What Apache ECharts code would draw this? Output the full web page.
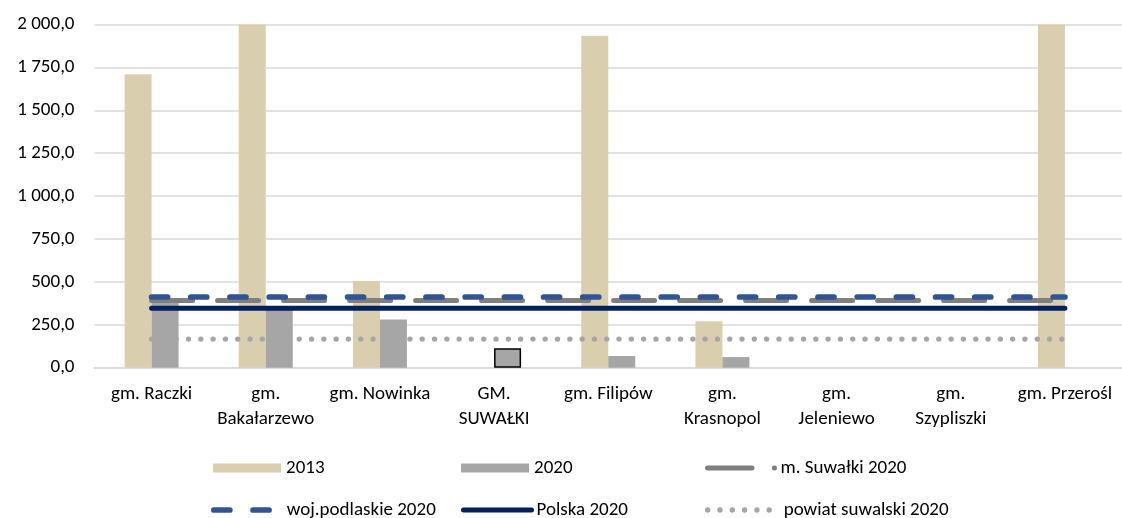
<!DOCTYPE html>
<html><head><meta charset="utf-8">
<script src="https://cdn.jsdelivr.net/npm/echarts@6/dist/echarts.min.js"></script>
<style>html,body{margin:0;padding:0;background:#fff}#c{width:1122px;height:518px}</style>
</head><body><div id="c"></div>
<script>
// ---- data ----
const categories = ['gm. Raczki', 'gm.\nBakałarzewo', 'gm. Nowinka', 'GM.\nSUWAŁKI', 'gm. Filipów', 'gm.\nKrasnopol', 'gm.\nJeleniewo', 'gm.\nSzypliszki', 'gm. Przerośl'];
const values2013 = [1710, 2000, 505, null, 1935, 270, null, null, 2000];
const values2020 = [385, 355, 281, 113, 68, 62, null, null, null];
const suwalkiCity2020 = [392, 392, 392, 392, 392, 392, 392, 392, 392];
const podlaskie2020 = [412, 412, 412, 412, 412, 412, 412, 412, 412];
const polska2020 = [347, 347, 347, 347, 347, 347, 347, 347, 347];
const powiat2020 = [167, 167, 167, 167, 167, 167, 167, 167, 167];
const yMin = 0, yMax = 2000, yStep = 250;
const outlinedIndex2020 = 3;

// ---- chart ----
const FONT = 'Carlito, Lato, sans-serif';
const FS = 19;
function fmtNum(v) {
  const s = Number(v).toFixed(1).replace('.', ',');
  const parts = s.split(',');
  const intp = parts[0].replace(/\B(?=(\d{3})+(?!\d))/g, '\u00a0');
  return intp + ',' + parts[1];
}
const chart = echarts.init(document.getElementById('c'), null, {renderer: 'canvas'});
const textStyle = {fontFamily: FONT, fontSize: FS, color: '#000', lineHeight: 20};
function lg(name, left, top, extra) {
  return Object.assign({
    data: [name], left: left, top: top, padding: 0, itemGap: 0,
    itemWidth: 68, itemHeight: 9, selectedMode: false, textStyle: textStyle,
    itemStyle: {opacity: 0}
  }, extra || {});
}
const row1 = 458, row2 = 500;
chart.setOption({
  animation: false,
  backgroundColor: '#fff',
  grid: {left: 94.5, top: 24.5, width: 1030.5, height: 343.2},
  legend: [
    lg('2013', 213, row1, {icon: 'rect', itemStyle: {}}),
    lg('2020', 461, row1, {icon: 'rect', itemStyle: {}}),
    lg('m. Suwałki 2020', 705, row1, {lineStyle: {width: 5, type: [44.5, 22.4, 0.1, 30]}}),
    lg('woj.podlaskie 2020', 211, row2, {lineStyle: {width: 5.7}}),
    lg('Polska 2020', 461, row2, {lineStyle: {width: 5}}),
    lg('powiat suwalski 2020', 705, row2, {lineStyle: {width: 5.3}, textStyle: Object.assign({}, textStyle, {padding: [0, 0, 0, 3]})})
  ],
  xAxis: {
    type: 'category', data: categories, boundaryGap: true,
    axisLine: {show: true, lineStyle: {color: '#d9d9d9', width: 1.5}},
    axisTick: {show: false},
    axisLabel: {interval: 0, margin: 14, fontFamily: FONT, fontSize: FS, color: '#000', lineHeight: 25}
  },
  yAxis: {
    type: 'value', min: yMin, max: yMax, interval: yStep,
    axisLine: {show: false}, axisTick: {show: false},
    splitLine: {lineStyle: {color: '#d9d9d9', width: 1.5}},
    axisLabel: {margin: 20, fontFamily: FONT, fontSize: FS, color: '#000', formatter: fmtNum}
  },
  series: [
    {name: '2013', type: 'bar', data: values2013, barWidth: 27, barGap: '0%',
     itemStyle: {color: '#d9ceae'}, emphasis: {disabled: true}},
    {name: '2020', type: 'bar', data: values2020.map((v, i) => i === outlinedIndex2020 ?
       {value: v, itemStyle: {borderColor: '#000', borderWidth: 1.5}} : v),
     barWidth: 27, itemStyle: {color: '#a6a6a6'}, emphasis: {disabled: true}},
    {name: 'powiat suwalski 2020', type: 'line', data: powiat2020, symbol: 'none',
     itemStyle: {color: '#a6a6a6'},
     lineStyle: {color: '#a6a6a6', width: 5.3, type: [0.1, 12.2], cap: 'round'}, emphasis: {disabled: true}},
    {name: 'Polska 2020', type: 'line', data: polska2020, symbol: 'none',
     itemStyle: {color: '#002060'},
     lineStyle: {color: '#002060', width: 5, type: 'solid', cap: 'round'}, emphasis: {disabled: true}},
    {name: 'm. Suwałki 2020', type: 'line', data: suwalkiCity2020, symbol: 'none',
     itemStyle: {color: '#7f7f7f'},
     lineStyle: {color: '#7f7f7f', width: 5, type: [41, 25], cap: 'round'}, emphasis: {disabled: true}},
    {name: 'woj.podlaskie 2020', type: 'line', data: podlaskie2020, symbol: 'none',
     itemStyle: {color: '#2f5597'},
     lineStyle: {color: '#2f5597', width: 5.7, type: [16, 23.2], cap: 'round'}, emphasis: {disabled: true}}
  ]
});
</script></body></html>
